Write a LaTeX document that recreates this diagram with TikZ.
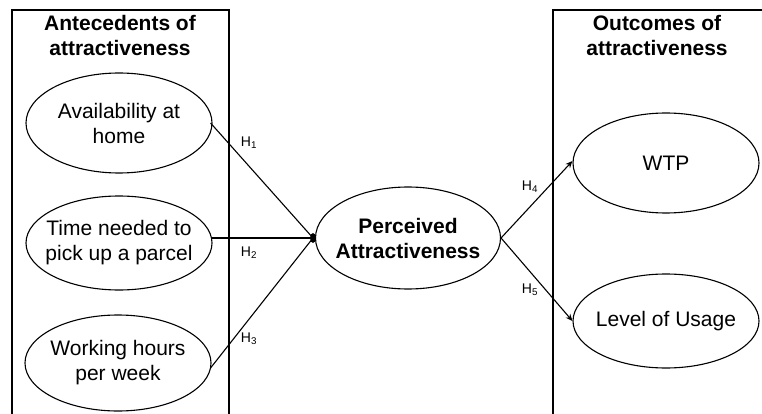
\documentclass[tikz,border=0pt]{standalone}
\usepackage{fontspec}
\setmainfont{Liberation Sans}
\usetikzlibrary{arrows.meta,shapes.geometric}
\begin{document}
\begin{tikzpicture}[x=1pt,y=-1pt,
  every node/.style={font=\fontsize{21}{25}\selectfont, align=center, inner sep=0pt},
  oval/.style={draw, ellipse, line width=1.1pt, minimum width=186pt, minimum height=100pt},
  hdr/.style={font=\fontsize{21}{25}\selectfont\bfseries},
  hyp/.style={font=\fontsize{14}{16}\selectfont},
  conn/.style={line width=1.1pt},
  arr/.style={conn, -{Stealth[length=7pt,width=6pt]}},
  frame/.style={line width=1.1pt}]
\useasboundingbox (0,0) rectangle (762,414);
% frames
\draw[frame] (12,415) -- (12,10) -- (229,10) -- (229,415);
\draw[frame] (553,415) -- (553,10) -- (763,10);
% headers
\node[hdr] (hl) at (120,35) {Antecedents of\\attractiveness};
\node[hdr] (hr) at (657,35) {Outcomes of\\attractiveness};
% left ellipses
\node[oval] (av) at (119,123) {};
\node (avt) at (av.center) {Availability at\\home};
\node[oval, minimum height=94pt] (tn) at (119,243) {};
\node (tnt) at (tn.center) {Time needed to\\pick up a parcel};
\node[oval, minimum height=96pt] (wh) at (118,363) {};
\node (wht) at (wh.center) {Working hours\\per week};
% center
\node[oval, minimum width=185pt, minimum height=102pt] (pa) at (408,238) {};
\node[font=\fontsize{21}{25}\selectfont\bfseries] (pat) at (pa.center) {Perceived\\Attractiveness};
% right
\node[oval] (wtp) at (666,163) {};
\node (wtpt) at (wtp.center) {WTP};
\node[oval, minimum height=94pt] (lu) at (666,321) {};
\node (lut) at (lu.center) {Level of Usage};
% convergence point
\coordinate (cv) at (313,238);
\coordinate (avs) at ([xshift=-2pt]av.east);
\coordinate (whs) at ([xshift=-1pt,yshift=-5pt]wh.east);
\draw[conn] (avs) -- (cv);
\draw[conn] ([xshift=-1pt]tn.east |- cv) -- (cv);
\draw[conn] (whs) -- (cv);
\fill (cv) ellipse (3pt and 5pt);
% outgoing
\draw[arr] (pa.east) -- ([yshift=2pt]wtp.west);
\draw[arr] (pa.east) -- (lu.west);
% labels
\node[hyp] (h1) at (249,143) {H\textsubscript{1}};
\node[hyp] (h2) at (249,253) {H\textsubscript{2}};
\node[hyp] (h3) at (249,339) {H\textsubscript{3}};
\node[hyp] (h4) at (530,187) {H\textsubscript{4}};
\node[hyp] (h5) at (530,290) {H\textsubscript{5}};
\end{tikzpicture}
\end{document}
